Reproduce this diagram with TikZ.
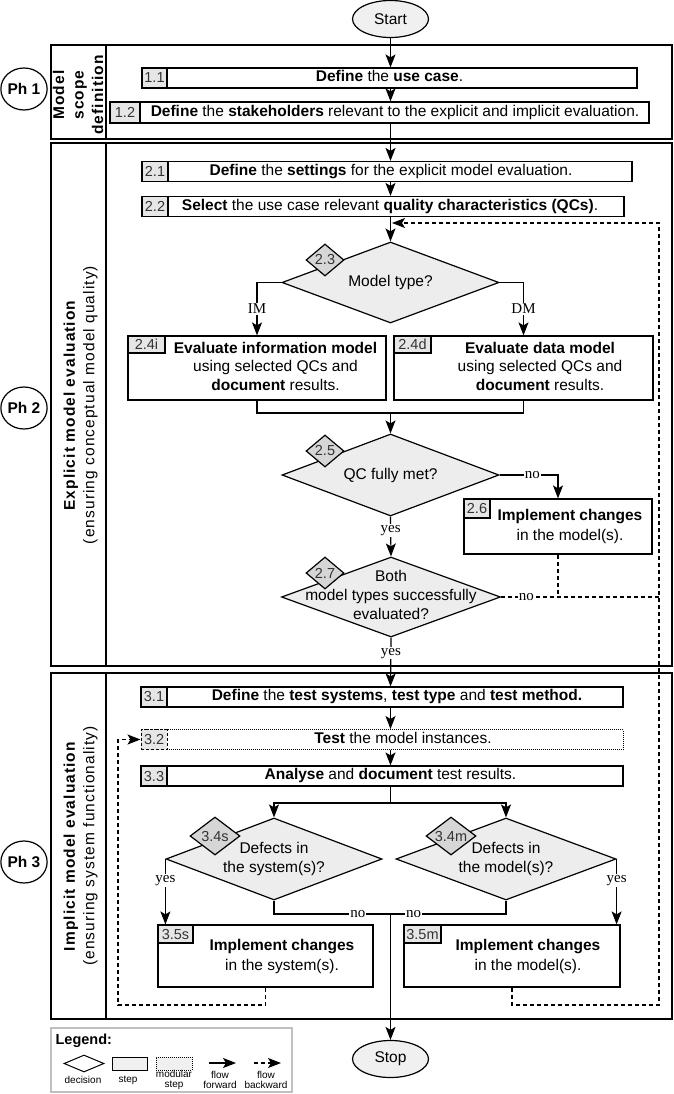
\documentclass[tikz,border=0pt]{standalone}
\usepackage{fontspec}
\setmainfont{Liberation Sans}
\newfontfamily\serifl{Liberation Serif}
\newfontfamily\vfont[LetterSpace=7]{Liberation Sans}
\usepackage{xcolor}
\usepackage{tikz}
\usetikzlibrary{arrows.meta,shapes.geometric,positioning}

\definecolor{cellgray}{HTML}{E6E6E6}
\definecolor{diagray}{HTML}{EDEDED}
\definecolor{taggray}{HTML}{D6D6D6}
\definecolor{termgray}{HTML}{F0F0F0}
\definecolor{leggray}{HTML}{C0C0C0}
\definecolor{numtext}{HTML}{333333}

\newcommand{\stepfont}{\fontsize{15.5}{18.5}\selectfont}
\newcommand{\numfont}{\fontsize{14.5}{16}\selectfont}
\newcommand{\legfont}{\fontsize{10}{10}\selectfont}
\newcommand{\shtext}[2]{\hspace*{#1pt}\begin{tabular}{@{}c@{}}#2\end{tabular}}

\begin{document}
\begin{tikzpicture}[x=1pt,y=-1pt,line width=1.2pt,
  >={Stealth[length=13pt,width=10pt,inset=3pt]},
  stepbox/.style={draw, fill=white, inner sep=0pt, font=\stepfont},
  num/.style={draw, fill=cellgray, anchor=north west, inner sep=0pt, font=\numfont, text=numtext},
  decision/.style={diamond, draw, fill=diagray, inner sep=0pt, aspect=2.65, align=center, font=\stepfont},
  tag/.style={diamond, draw, fill=taggray, inner sep=0pt, aspect=1.2, minimum width=38pt, minimum height=32pt, font=\numfont, text=numtext},
  term/.style={ellipse, draw, fill=termgray, minimum width=76pt, minimum height=37pt, font=\stepfont},
  phid/.style={ellipse, draw, minimum width=45pt, minimum height=42pt, inner sep=0pt, font=\bfseries\stepfont},
  frame/.style={draw, line width=1.8pt},
  vlabel/.style={rotate=90, align=center, font=\vfont\fontsize{15.5}{19.5}\selectfont},
  lbl/.style={font=\serifl\fontsize{15}{15}\selectfont, fill=white, inner sep=1pt},
  back/.style={->, dash pattern=on 4pt off 3pt},
  legtext/.style={font=\legfont, align=center, inner sep=0pt}]

\useasboundingbox (0,0) rectangle (674,1094);

% phases
\draw[frame] (51,45) rectangle (672,139);
\draw (106,45) -- (106,139);
\draw[frame] (51,143) rectangle (672,666);
\draw (106,143) -- (106,666);
\draw[frame] (51,673) rectangle (672,1019);
\draw (106,673) -- (106,1019);

\node[phid] (ph1) at (24,89) {Ph 1};
\node[phid] (ph2) at (24,408) {Ph 2};
\node[phid] (ph3) at (24,862) {Ph 3};

\node[vlabel, font=\vfont\bfseries\fontsize{15.5}{19.5}\selectfont] (lab1) at (78,95) {Model\\scope\\definition};
\node[vlabel] (lab2) at (80.5,405) {\textbf{Explicit model evaluation}\\(ensuring conceptual model quality)};
\node[vlabel] (lab3) at (80.5,846) {\textbf{Implicit model evaluation}\\(ensuring system functionality)};

\node[term] (start) at (390.5,19) {Start};
\node[term] (stop) at (390.5,1059) {Stop};

% phase 1
\node[stepbox, minimum width=495pt, minimum height=20pt] (s11) at (389.5,78) {\shtext{0}{\textbf{Define} the \textbf{use case}.}};
\node[num, minimum width=25pt, minimum height=20pt] (n11) at (s11.north west) {1.1};
\node[stepbox, minimum width=539pt, minimum height=21pt] (s12) at (379.5,112.5) {\shtext{31}{\textbf{Define} the \textbf{stakeholders} relevant to the explicit and implicit evaluation.}};
\node[num, minimum width=30pt, minimum height=21pt] (n12) at (s12.north west) {1.2};

% phase 2
\node[stepbox, minimum width=490pt, minimum height=20pt] (s21) at (387,171.5) {\shtext{8}{\textbf{Define} the \textbf{settings} for the explicit model evaluation.}};
\node[num, minimum width=26pt, minimum height=20pt] (n21) at (s21.north west) {2.1};
\node[stepbox, minimum width=482pt, minimum height=20pt] (s22) at (383,206.5) {\shtext{14}{\textbf{Select} the use case relevant \textbf{quality characteristics (QCs)}.}};
\node[num, minimum width=26pt, minimum height=20pt] (n22) at (s22.north west) {2.2};

\node[decision, minimum width=217pt, minimum height=81pt] (d23) at (390.5,282.5) {Model type?};
\node[tag] (t23) at (325,260) {2.3};

\node[stepbox, minimum width=258pt, minimum height=64pt] (s24i) at (257,368) {\shtext{37}{\textbf{Evaluate information model}\\using selected QCs and\\\textbf{document} results.}};
\node[num, minimum width=37pt, minimum height=17pt] (n24i) at (s24i.north west) {2.4i};
\node[stepbox, minimum width=259pt, minimum height=64pt] (s24d) at (523.5,368) {\shtext{33}{\textbf{Evaluate data model}\\using selected QCs and\\\textbf{document} results.}};
\node[num, minimum width=37pt, minimum height=17pt] (n24d) at (s24d.north west) {2.4d};

\node[decision, minimum width=217pt, minimum height=82pt] (d25) at (390.5,475) {QC fully met?};
\node[tag] (t25) at (325,451) {2.5};

\node[stepbox, minimum width=188pt, minimum height=55pt, font=\fontsize{15.5}{20}\selectfont] (s26) at (558,526.5) {\shtext{24}{\textbf{Implement changes}\\in the model(s).}};
\node[num, minimum width=26pt, minimum height=19pt] (n26) at (s26.north west) {2.6};

\node[decision, minimum width=219pt, minimum height=80pt] (d27) at (391,597) {};
\node[align=center, font=\fontsize{15.5}{19}\selectfont] (d27t) at (391,595) {Both\\model types successfully\\evaluated?};
\node[tag] (t27) at (325,573) {2.7};

% phase 3
\node[stepbox, minimum width=482pt, minimum height=20pt] (s31) at (382,697) {\shtext{30}{\textbf{Define} the \textbf{test systems}, \textbf{test type} and \textbf{test method.}}};
\node[num, minimum width=26pt, minimum height=20pt] (n31) at (s31.north west) {3.1};
\node[stepbox, line width=1pt, dash pattern=on 1pt off 1pt, minimum width=482pt, minimum height=20pt] (s32) at (382,739.5) {\shtext{42}{\textbf{Test} the model instances.}};
\node[num, dash pattern=on 3pt off 2pt, minimum width=26pt, minimum height=20pt] (n32) at (s32.north west) {3.2};
\node[stepbox, minimum width=482pt, minimum height=20pt] (s33) at (382,776) {\shtext{17}{\textbf{Analyse} and \textbf{document} test results.}};
\node[num, minimum width=26pt, minimum height=20pt] (n33) at (s33.north west) {3.3};

\node[decision, minimum width=216pt, minimum height=82pt] (d34s) at (274,859) {Defects in\\the system(s)?};
\node[tag, minimum width=50pt, minimum height=38pt] (t34s) at (215,836) {3.4s};
\node[decision, minimum width=220pt, minimum height=82pt] (d34m) at (506,859) {Defects in\\the model(s)?};
\node[tag, minimum width=50pt, minimum height=38pt] (t34m) at (451,836) {3.4m};

\node[stepbox, minimum width=215pt, minimum height=62pt, font=\fontsize{15.5}{20}\selectfont] (s35s) at (265.5,956) {\shtext{33}{\textbf{Implement changes}\\in the system(s).}};
\node[num, minimum width=35pt, minimum height=18pt] (n35s) at (s35s.north west) {3.5s};
\node[stepbox, minimum width=216pt, minimum height=62pt, font=\fontsize{15.5}{20}\selectfont] (s35m) at (512,956) {\shtext{32}{\textbf{Implement changes}\\in the model(s).}};
\node[num, minimum width=37pt, minimum height=18pt] (n35m) at (s35m.north west) {3.5m};

% forward flow
\draw[->] (start) -- (start |- s11.north);
\draw[->] (start |- s11.south) -- (start |- s12.north);
\draw[->] (start |- s12.south) -- (start |- s21.north);
\draw[->] (start |- s21.south) -- (start |- s22.north);
\draw[->] (start |- s22.south) -- (d23.north);
\draw[->] (d23.west) -| node[lbl, pos=0.75] {IM} (s24i.north);
\draw[->] (d23.east) -| node[lbl, pos=0.75] {DM} (s24d.north);
\coordinate (j24) at (390.5,413);
\draw (s24i.south) |- (j24) -| (s24d.south);
\draw[->] (j24) -- (d25.north);
\draw[->] (d25.east) -| node[lbl, pos=0.28] {no} (s26.north);
\draw[->] (d25.south) -- node[lbl, pos=0.35] {yes} (d27.north);
\draw[->] (d27.south) -- node[lbl, pos=0.32] {yes} (start |- s31.north);
\draw[->] (start |- s31.south) -- (start |- s32.north);
\draw[->] (start |- s32.south) -- (start |- s33.north);
\coordinate (j33) at (390.5,803);
\draw (start |- s33.south) -- (j33);
\draw[->] (j33) -| (d34s.north);
\draw[->] (j33) -| (d34m.north);
\draw[->] (d34s.west) -- node[lbl, pos=0.33] {yes} (d34s.west |- s35s.north);
\draw[->] (d34m.east) -- node[lbl, pos=0.33] {yes} (d34m.east |- s35m.north);
\coordinate (j34) at (390.5,914);
\draw (d34s.south) |- node[lbl, pos=0.86] {no} (j34);
\draw (d34m.south) |- node[lbl, pos=0.9] {no} (j34);
\draw[->] (j34) -- (stop);

% backward flow
\coordinate (loopin) at (392,223);
\coordinate (loopbr) at (659,1005);
\coordinate (loopbl) at (118,1005);
\draw[back] (s35m.south) |- (loopbr) |- (loopin);
\draw[back,-] (s26.south) -- (s26.south |- d27.east);
\draw[back,-] (d27.east) -- node[lbl, pos=0.16] {no} (d27.east -| loopbr);
\draw[back] (s35s.south) |- (loopbl) |- (s32.west);

% legend
\draw[draw=leggray, line width=1.5pt] (51,1028) rectangle (292,1092);
\node[font=\bfseries\fontsize{14.5}{16}\selectfont, anchor=west, inner sep=0pt] (leg) at (55,1041) {Legend:};
\node[diamond, draw, line width=1pt, fill=white, minimum width=40pt, minimum height=17pt, inner sep=0pt] (lgdec) at (84,1063.5) {};
\node[legtext] (lgdect) at (83,1080) {decision};
\node[draw, line width=1pt, fill=termgray, minimum width=35pt, minimum height=13pt, inner sep=0pt] (lgstep) at (130,1063.5) {};
\node[legtext] (lgstept) at (128,1080) {step};
\node[draw, line width=0.8pt, fill=termgray, dash pattern=on 1pt off 1pt, minimum width=36pt, minimum height=13pt, inner sep=0pt] (lgmod) at (174,1063.5) {};
\node[legtext] (lgmodt) at (174,1080) {modular\\step};
\coordinate (lgf1) at (209,1063);
\coordinate (lgf2) at (236,1063);
\draw[->] (lgf1) -- (lgf2);
\node[legtext] (lgft) at (220,1080) {flow\\forward};
\coordinate (lgb1) at (254,1063);
\coordinate (lgb2) at (281,1063);
\draw[back] (lgb1) -- (lgb2);
\node[legtext] (lgbt) at (266,1080) {flow\\backward};

\end{tikzpicture}
\end{document}
